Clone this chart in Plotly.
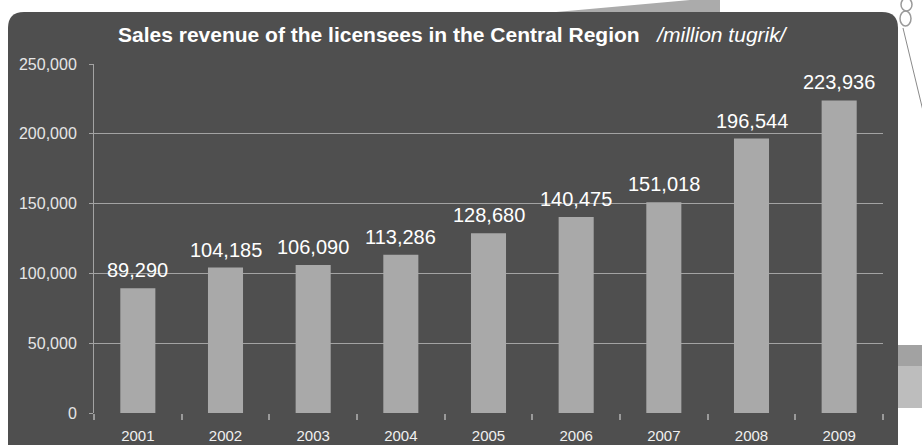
import plotly.graph_objects as go

years = ["2001", "2002", "2003", "2004", "2005", "2006", "2007", "2008", "2009"]
revenue = [89290, 104185, 106090, 113286, 128680, 140475, 151018, 196544, 223936]
y_ticks = [0, 50000, 100000, 150000, 200000, 250000]

W, H = 922, 445
L, R, T, B = 94, 39, 64, 32
PANEL = "#4f4f4f"
GRID = "#a3a3a3"
FONT = "Liberation Sans, Arial, sans-serif"


def px(x):
    return (x - L) / (W - L - R)


def py(y):
    return (H - B - y) / (H - T - B)


fig = go.Figure()
fig.add_trace(
    go.Bar(
        x=years,
        y=revenue,
        marker=dict(color="#a9a9a9", line=dict(width=0)),
        width=0.4,
        hoverinfo="x+y",
    )
)

# value labels above bars (category index as x, strings like "2001" are read as indices)
for i, v in enumerate(revenue):
    fig.add_annotation(
        x=i, y=v, text=f"{v:,}", showarrow=False, yanchor="bottom", yshift=5,
        font=dict(family=FONT, size=20, color="#ffffff"),
    )

# title
fig.add_annotation(
    xref="paper", yref="paper", x=px(453), y=py(35), xanchor="center", yanchor="middle",
    text="<b>Sales revenue of the licensees in the Central Region</b>   <i>/million tugrik/</i>",
    showarrow=False, font=dict(family=FONT, size=21, color="#ffffff"),
)

# dark rounded panel and background decorations
x0, x1, y0, y1, r = 8, 898, 12, 460, 16
panel_path = (
    f"M {px(x0)},{py(y1)} L {px(x0)},{py(y0 + r)} Q {px(x0)},{py(y0)} {px(x0 + r)},{py(y0)} "
    f"L {px(x1 - r)},{py(y0)} Q {px(x1)},{py(y0)} {px(x1)},{py(y0 + r)} L {px(x1)},{py(y1)} Z"
)
band_path = (
    f"M {px(545)},{py(13)} L {px(690)},{py(0)} L {px(720)},{py(0)} L {px(720)},{py(13)} Z"
)
shapes = [
    dict(type="path", path=band_path, xref="paper", yref="paper",
         fillcolor="#ababab", line=dict(width=0), layer="below"),
    dict(type="rect", xref="paper", yref="paper", x0=px(898), x1=px(930), y0=py(345), y1=py(366),
         fillcolor="#a2a2a2", line=dict(width=0), layer="below"),
    dict(type="rect", xref="paper", yref="paper", x0=px(898), x1=px(930), y0=py(366), y1=py(408),
         fillcolor="#bdbdbd", line=dict(width=0), layer="below"),
    dict(type="line", xref="paper", yref="paper", x0=px(903), y0=py(28), x1=px(924), y1=py(115),
         line=dict(color="#8a8a8a", width=1), layer="below"),
    dict(type="circle", xref="paper", yref="paper", x0=px(901), x1=px(912), y0=py(-2), y1=py(11),
         line=dict(color="#9a9a9a", width=1.5), layer="below"),
    dict(type="circle", xref="paper", yref="paper", x0=px(900), x1=px(911), y0=py(11), y1=py(26),
         line=dict(color="#9a9a9a", width=1.5), layer="below"),
    dict(type="path", path=panel_path, xref="paper", yref="paper",
         fillcolor=PANEL, line=dict(width=0), layer="below"),
]

fig.update_layout(
    width=W, height=H,
    margin=dict(l=L, r=R, t=T, b=B, pad=0, autoexpand=False),
    paper_bgcolor="#ffffff",
    plot_bgcolor=PANEL,
    showlegend=False,
    shapes=shapes,
    bargap=0.6,
    font=dict(family=FONT, color="#e6e6e6"),
)
fig.update_xaxes(
    type="category", range=[-0.5, len(years) - 0.5], tickson="boundaries",
    ticks="outside", ticklen=6, tickwidth=2, automargin=False,
    tickcolor="#9a9a9a", showline=False, showgrid=False, ticklabelstandoff=12,
    tickfont=dict(family=FONT, size=15, color="#f0f0f0"), fixedrange=True,
)
fig.update_yaxes(
    range=[0, 250000], tickvals=y_ticks, tickformat=",", ticks="outside", ticklen=4,
    tickcolor=GRID, showline=True, linecolor=GRID, linewidth=1, automargin=False,
    showgrid=True, gridcolor=GRID, gridwidth=1, ticklabelstandoff=9,
    zeroline=True, zerolinecolor=PANEL,
    tickfont=dict(family=FONT, size=16, color="#e6e6e6"), fixedrange=True,
)

fig.write_html(
    "out.html",
    config={"displayModeBar": False},
    post_script="document.body.style.margin='0';document.body.style.overflow='hidden';",
)
